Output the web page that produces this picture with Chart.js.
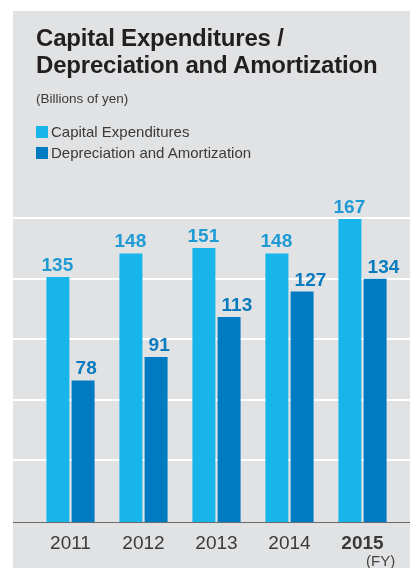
<!DOCTYPE html>
<html>
<head>
<meta charset="utf-8">
<script src="https://cdn.jsdelivr.net/npm/chart.js@4"></script>
<style>
  html, body { margin: 0; padding: 0; background: #fff; }
  body { width: 410px; height: 568px; position: relative; overflow: hidden; font-family: "Liberation Sans", Arial, sans-serif; }
  #panel { position: absolute; left: 13px; top: 11px; width: 397px; height: 557px; background: #e1e2e4; }
  #title { position: absolute; left: 23px; top: 13px; font-size: 24px; font-weight: bold; line-height: 27px; color: #231f20; letter-spacing: -0.2px; }
  #unit { position: absolute; left: 23px; top: 80px; font-size: 13.5px; color: #3a3a3a; }
  #legend { position: absolute; left: 23px; top: 113px; font-size: 15px; color: #3a3a3a; }
  #legend div { height: 21px; line-height: 16px; white-space: nowrap; }
  #legend span.box { display: inline-block; width: 12px; height: 12px; margin-right: 3px; vertical-align: -1px; }
  #fy { position: absolute; left: 353px; top: 541px; font-size: 15px; color: #444; }
  #chartWrap { position: absolute; left: 0; top: 0; width: 397px; height: 557px; }
</style>
</head>
<body>
<div id="panel">
  <div id="chartWrap"><canvas id="chart" width="397" height="557"></canvas></div>
  <div id="title">Capital Expenditures /<br>Depreciation and Amortization</div>
  <div id="unit">(Billions of yen)</div>
  <div id="legend"></div>
  <div id="fy">(FY)</div>
</div>
<script>
const years = ['2011', '2012', '2013', '2014', '2015'];
const capex = [135, 148, 151, 148, 167];
const depreciation = [78, 91, 113, 127, 134];
const seriesNames = ['Capital Expenditures', 'Depreciation and Amortization'];
const barColors = ['#17b5ea', '#007bc2'];
const labelColors = ['#1e9bd4', '#0a7bbf'];

// legend in html so it wraps on two rows like the original
const legend = document.getElementById('legend');
seriesNames.forEach((name, i) => {
  const row = document.createElement('div');
  row.innerHTML = '<span class="box" style="background:' + barColors[i] + '"></span>' + name;
  legend.appendChild(row);
});

const panelGrid = {
  id: 'panelGrid',
  beforeDatasetsDraw(chart) {
    const y = chart.scales.y, ctx = chart.ctx;
    ctx.save();
    ctx.strokeStyle = '#ffffff';
    ctx.lineWidth = 2;
    y.ticks.forEach(t => {
      if (t.value <= 0) return;
      const py = Math.round(y.getPixelForValue(t.value)) - 1;
      ctx.beginPath();
      ctx.moveTo(0, py);
      ctx.lineTo(chart.width, py);
      ctx.stroke();
    });
    ctx.restore();
  },
  afterDatasetsDraw(chart) {
    const y = chart.scales.y, ctx = chart.ctx;
    ctx.save();
    // base line
    const py = Math.round(y.getPixelForValue(0)) + 0.5;
    ctx.strokeStyle = '#6b6b6b';
    ctx.lineWidth = 1;
    ctx.beginPath();
    ctx.moveTo(0, py);
    ctx.lineTo(chart.width, py);
    ctx.stroke();
    // value labels
    ctx.font = 'bold 19px "Liberation Sans", Arial, sans-serif';
    ctx.textBaseline = 'alphabetic';
    chart.data.datasets.forEach((ds, di) => {
      const meta = chart.getDatasetMeta(di);
      ctx.fillStyle = labelColors[di];
      meta.data.forEach((bar, i) => {
        if (di === 0) {
          ctx.textAlign = 'center';
          ctx.fillText(ds.data[i], bar.x - 0.5, bar.y - 6);
        } else {
          ctx.textAlign = 'left';
          ctx.fillText(ds.data[i], bar.x - bar.width / 2 + 4, bar.y - 6);
        }
      });
    });
    ctx.restore();
  }
};

new Chart(document.getElementById('chart').getContext('2d'), {
  type: 'bar',
  data: {
    labels: years,
    datasets: [
      { label: seriesNames[0], data: capex, backgroundColor: barColors[0] },
      { label: seriesNames[1], data: depreciation, backgroundColor: barColors[1] }
    ]
  },
  options: {
    responsive: false,
    animation: false,
    events: [],
    categoryPercentage: 0.69,
    barPercentage: 0.913,
    layout: { padding: { left: 21, right: 11, top: 208, bottom: 0 } },
    plugins: { legend: { display: false }, tooltip: { enabled: false } },
    scales: {
      x: {
        grid: { display: false, drawTicks: false },
        border: { display: false },
        ticks: {
          padding: 10,
          color: '#3a3a3a',
          font: (c) => ({ family: '"Liberation Sans", Arial, sans-serif', size: 19, weight: c.index === years.length - 1 ? 'bold' : 'normal' })
        },
        afterFit: (s) => { s.height = 46; }
      },
      y: {
        min: 0,
        max: 167,
        ticks: { display: false, stepSize: 33.4 },
        grid: { display: false },
        border: { display: false },
        afterFit: (s) => { s.width = 0; }
      }
    }
  },
  plugins: [panelGrid]
});
</script>
</body>
</html>
